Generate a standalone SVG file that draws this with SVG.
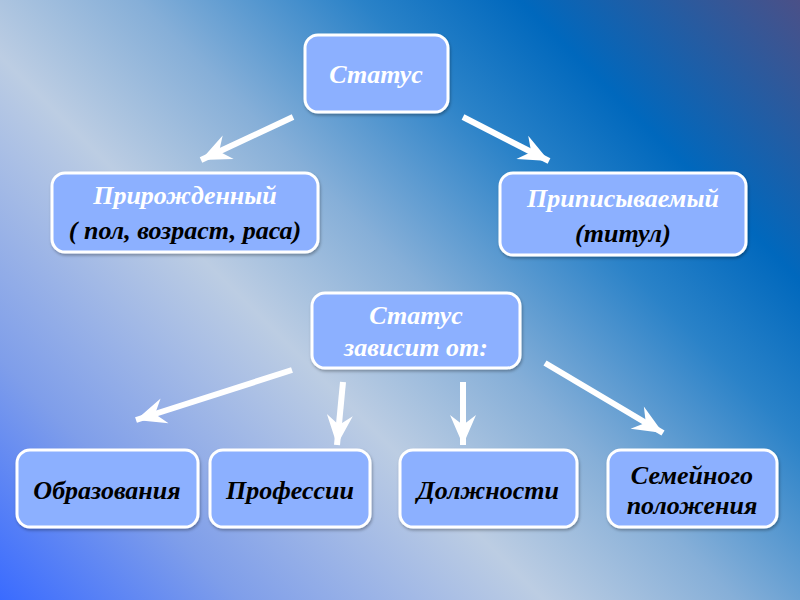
<svg xmlns="http://www.w3.org/2000/svg" width="800" height="600" viewBox="0 0 800 600">
  <defs>
    <linearGradient id="bg" gradientUnits="userSpaceOnUse" x1="0" y1="600" x2="800" y2="-200">
      <stop offset="0" stop-color="#3a6bff"/>
      <stop offset="0.15" stop-color="#7f9eea"/>
      <stop offset="0.34" stop-color="#bccde3"/>
      <stop offset="0.46" stop-color="#86afd8"/>
      <stop offset="0.6" stop-color="#2a82c8"/>
      <stop offset="0.7" stop-color="#0068bd"/>
      <stop offset="0.8" stop-color="#2a5a9e"/>
      <stop offset="0.92" stop-color="#5e4a7a"/>
    </linearGradient>
    <filter id="sh" x="-10%" y="-10%" width="120%" height="130%">
      <feDropShadow dx="1" dy="2" stdDeviation="1.5" flood-color="#000" flood-opacity="0.3"/>
    </filter>
    <marker id="ah" viewBox="-32 -15 34 30" refX="0" refY="0" markerWidth="34" markerHeight="30" markerUnits="userSpaceOnUse" orient="auto">
      <path d="M0,0 L-30,-13 L-20,0 L-30,13 Z" fill="#ffffff"/>
    </marker>
  </defs>
  <style>
    .box { fill: #8cb0ff; stroke: #ffffff; stroke-width: 3; filter: url(#sh); }
    .t { font-family: "Liberation Serif", "Times New Roman", serif; font-weight: bold; font-style: italic; text-anchor: middle; font-size: 26px; }
    .w { fill: #ffffff; }
    .k { fill: #000000; }
    .arr { stroke: #ffffff; stroke-width: 6; fill: none; marker-end: url(#ah); }
  </style>
  <rect x="0" y="0" width="800" height="600" fill="url(#bg)"/>

  <g id="connectors">
    <line class="arr" x1="293" y1="117" x2="201" y2="160"/>
    <line class="arr" x1="463" y1="117" x2="549" y2="161"/>
    <line class="arr" x1="292" y1="370" x2="136" y2="420"/>
    <line class="arr" x1="343" y1="382" x2="337" y2="445"/>
    <line class="arr" x1="463" y1="382" x2="463" y2="445"/>
    <line class="arr" x1="545" y1="363" x2="663" y2="433"/>
  </g>

  <g id="status">
    <rect class="box" x="305" y="35" width="143" height="77" rx="13"/>
    <text class="t w" x="376" y="83" font-size="27">Статус</text>
  </g>
  <g id="innate">
    <rect class="box" x="52" y="173" width="266" height="79" rx="13"/>
    <text class="t w" x="185" y="204">Прирожденный</text>
    <text class="t k" x="185" y="239">( пол, возраст, раса)</text>
  </g>
  <g id="ascribed">
    <rect class="box" x="500" y="173" width="246" height="82" rx="13"/>
    <text class="t w" x="623" y="207">Приписываемый</text>
    <text class="t k" x="623" y="242">(титул)</text>
  </g>
  <g id="depends">
    <rect class="box" x="312" y="293" width="208" height="75" rx="13"/>
    <text class="t w" x="416" y="324">Статус</text>
    <text class="t w" x="416" y="356">зависит от:</text>
  </g>
  <g id="education">
    <rect class="box" x="17" y="450" width="181" height="77" rx="13"/>
    <text class="t k" x="107" y="499">Образования</text>
  </g>
  <g id="profession">
    <rect class="box" x="210" y="450" width="160" height="77" rx="13"/>
    <text class="t k" x="290" y="499">Профессии</text>
  </g>
  <g id="position">
    <rect class="box" x="400" y="450" width="177" height="77" rx="13"/>
    <text class="t k" x="488" y="499">Должности</text>
  </g>
  <g id="family">
    <rect class="box" x="608" y="450" width="169" height="77" rx="13"/>
    <text class="t k" x="692" y="484">Семейного</text>
    <text class="t k" x="692" y="514">положения</text>
  </g>
</svg>
